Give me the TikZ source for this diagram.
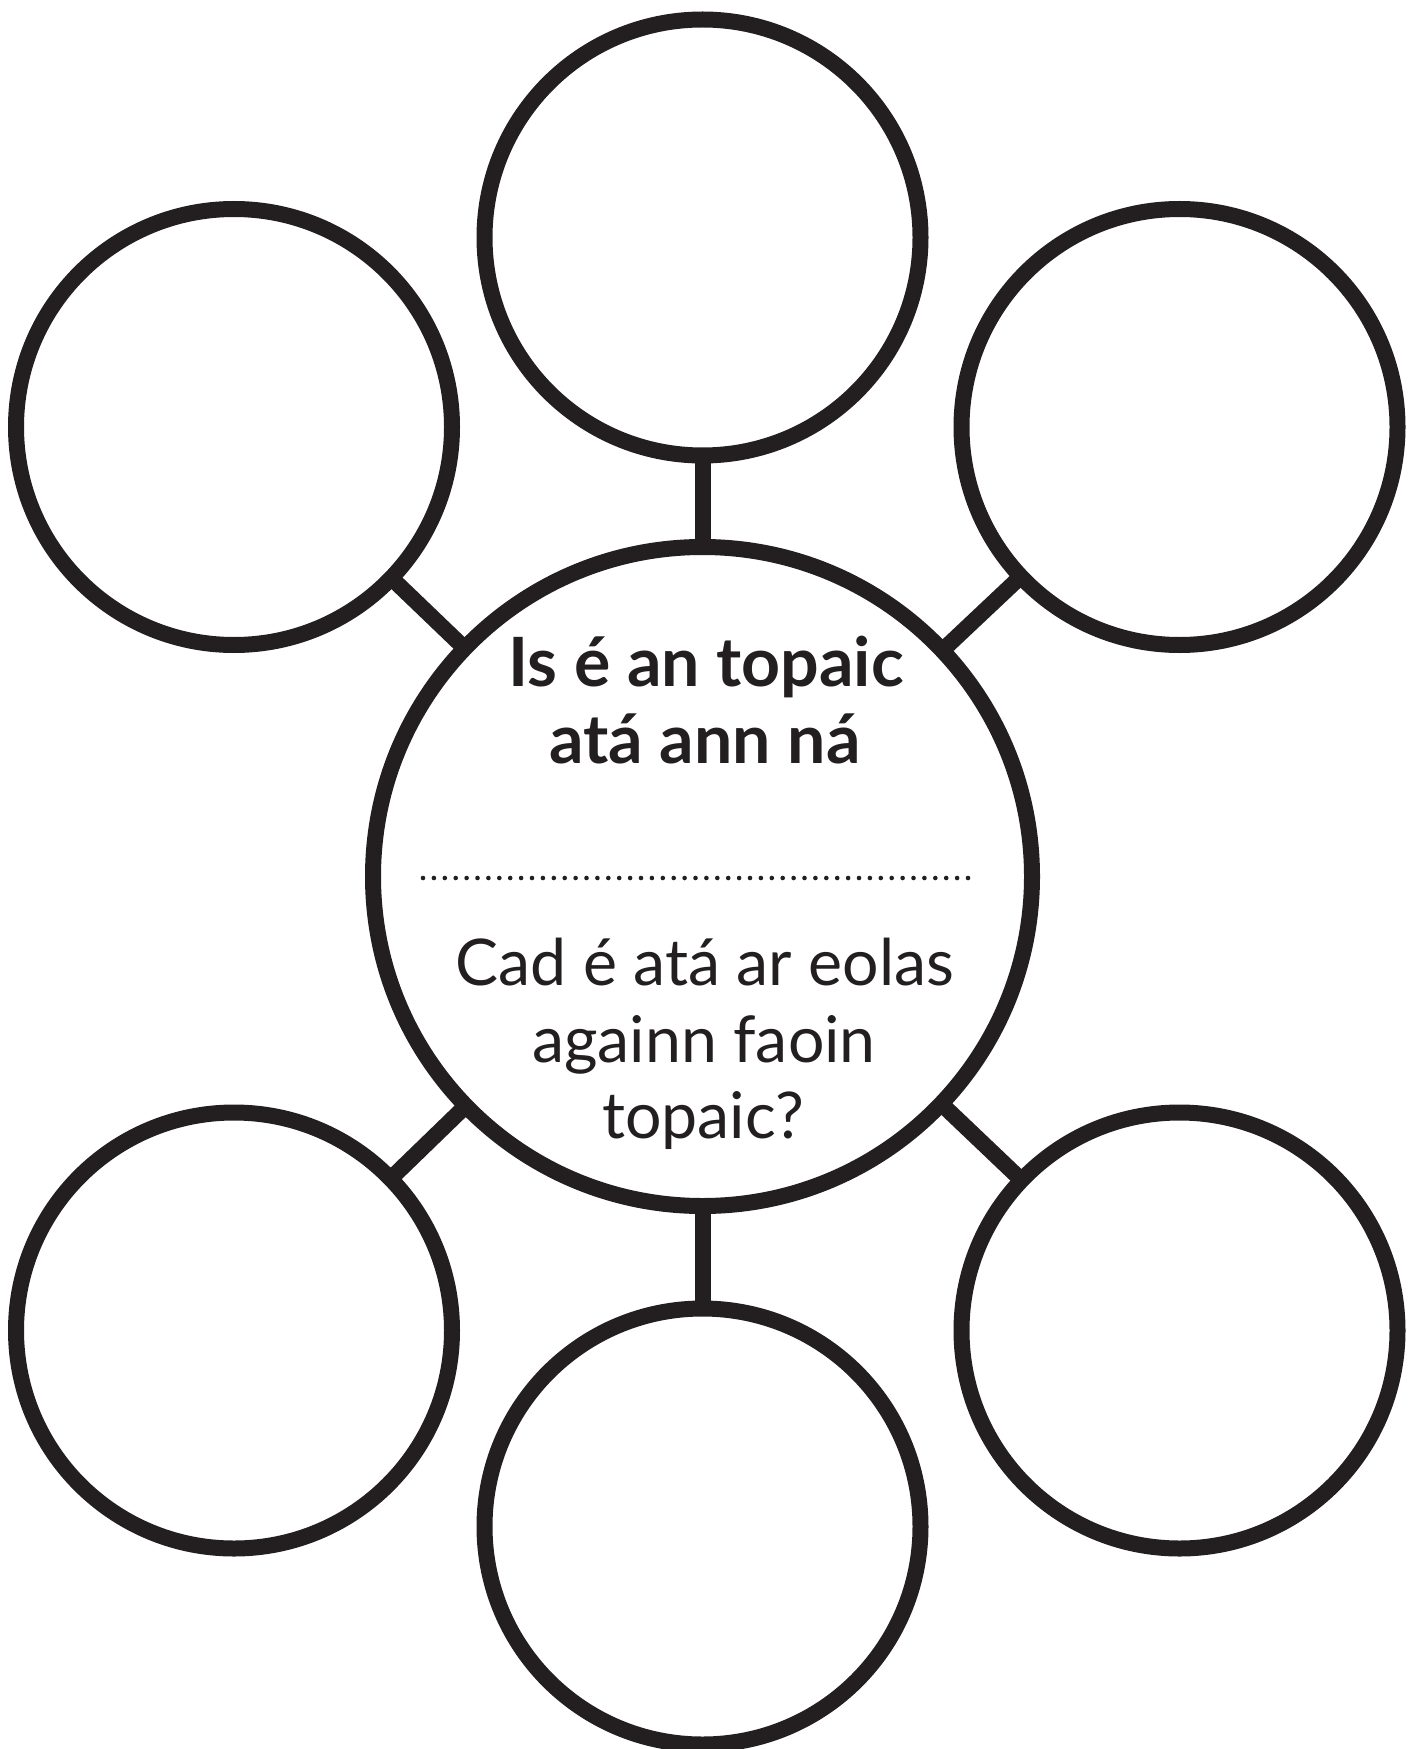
\documentclass[tikz,border=0pt]{standalone}
\usepackage{fontspec}
\setmainfont{Lato}
\usetikzlibrary{backgrounds}
\definecolor{ink}{HTML}{231F20}
\begin{document}
\begin{tikzpicture}[x=0.5pt,y=-0.5pt,
  bubble/.style={circle,draw=ink,line width=8pt,fill=white,minimum size=218pt,inner sep=0pt},
  hub/.style={circle,draw=ink,line width=8pt,fill=white,minimum size=329.5pt,inner sep=0pt},
  link/.style={draw=ink,line width=8pt},
  dotline/.style={draw=ink,line width=2.3pt,line cap=round,dash pattern=on 0pt off 5.45pt},
  boldtxt/.style={anchor=base,text=ink,font=\fontsize{34}{40}\selectfont\bfseries,inner sep=0pt},
  plaintxt/.style={anchor=base,text=ink,font=\fontsize{32.2}{38}\selectfont,inner sep=0pt}]
\useasboundingbox (0,0) rectangle (1419,1749);
% hub and bubbles
\node[hub] (c) at (702.5,876.5) {};
\node[bubble] (t)  at (702.5,237.5) {};
\node[bubble] (tl) at (234,427) {};
\node[bubble] (tr) at (1179.5,427) {};
\node[bubble] (bl) at (234,1330.5) {};
\node[bubble] (br) at (1179.5,1330.5) {};
\node[bubble] (b)  at (702.5,1526.5) {};
% connectors
\begin{pgfonlayer}{background}
\fill[white] (0,0) rectangle (1419,1749);
\foreach \n in {t,tl,tr,bl,br,b}{
  \draw[link] (c.center) -- (\n.center);
}
\end{pgfonlayer}
% texts
\node[boldtxt] (h1) at (706,686) {Is é an topaic};
\node[boldtxt] (h2) at (705,763) {atá ann ná};
\coordinate (dl) at (423,878);
\coordinate (dr) at (976,878);
\draw[dotline] (dl) -- (dr);
\node[plaintxt] (q1) at (705,985) {Cad é atá ar eolas};
\node[plaintxt] (q2) at (704,1062) {againn faoin};
\node[plaintxt] (q3) at (703,1138) {topaic?};
\end{tikzpicture}
\end{document}
